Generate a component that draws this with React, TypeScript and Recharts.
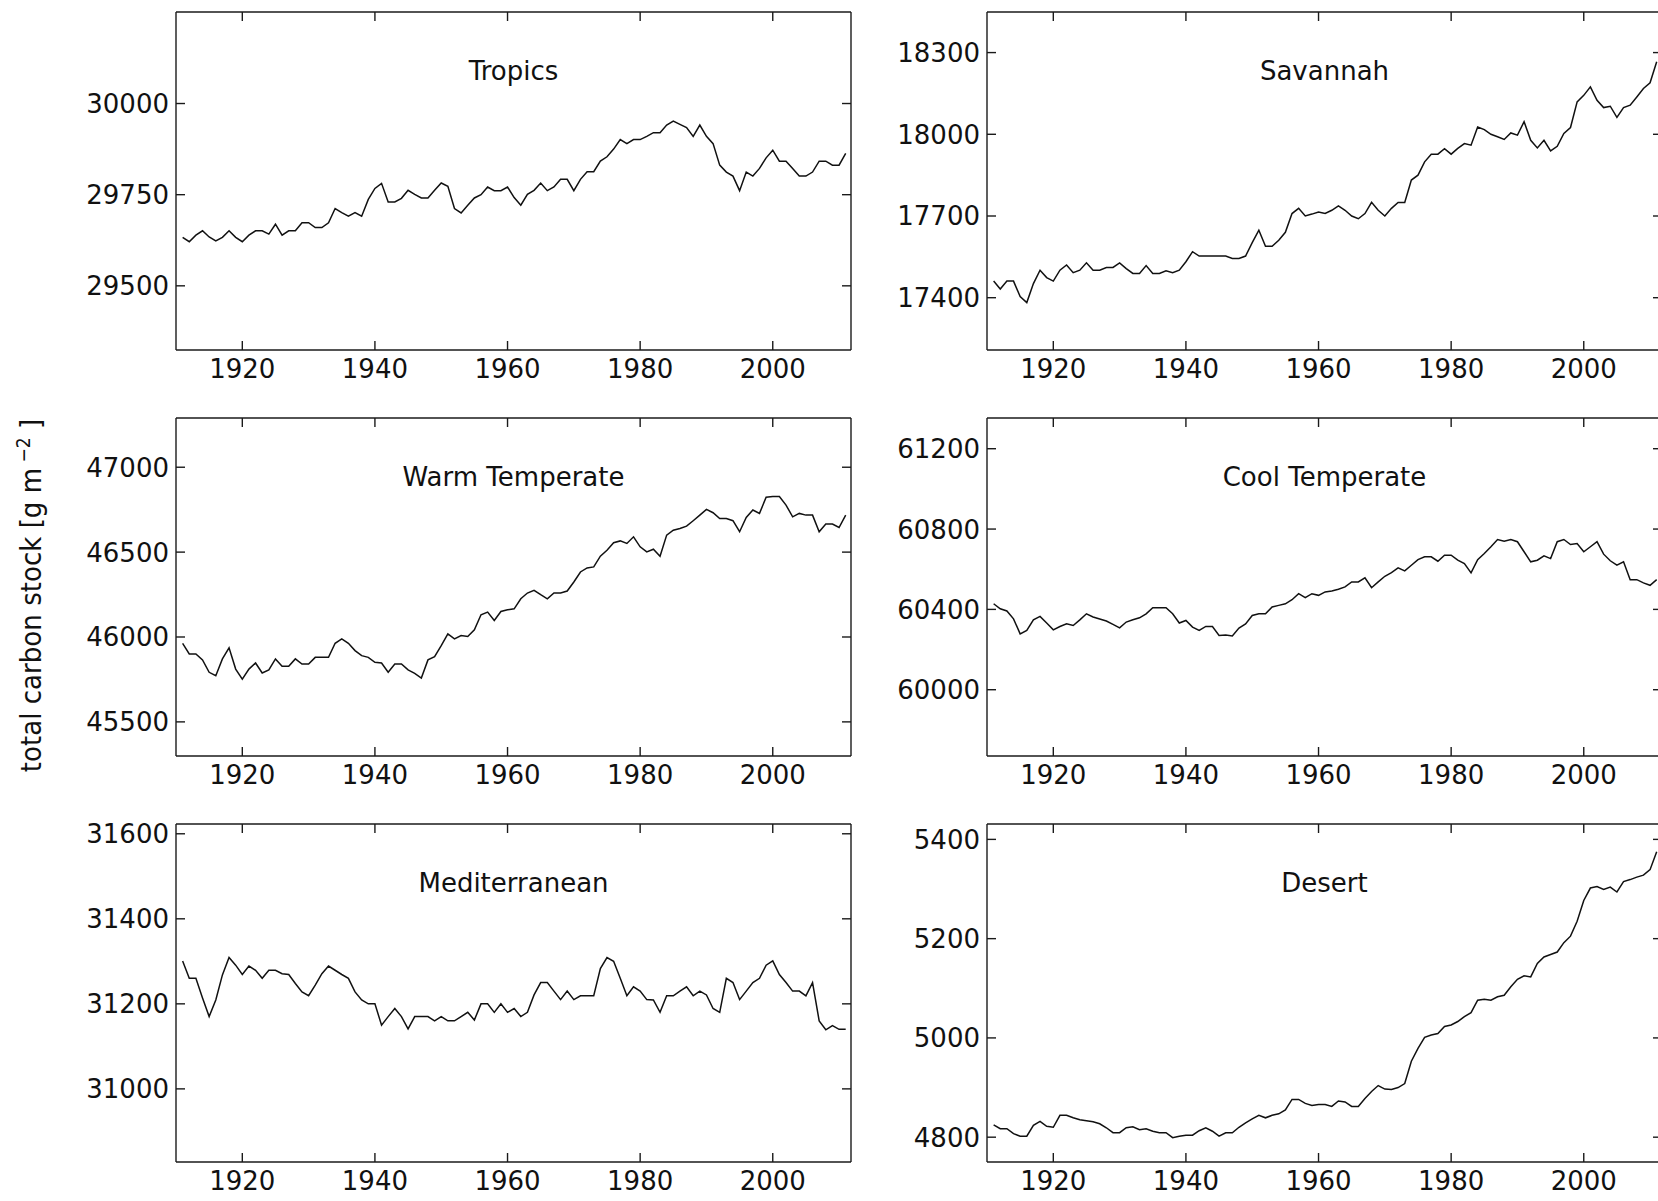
import React from 'react';
import { LineChart, Line, XAxis, YAxis } from 'recharts';

// Annual series, 1911–2011
const FIRST_YEAR = 1911;
const LAST_YEAR = 2011;
const years = Array.from({ length: LAST_YEAR - FIRST_YEAR + 1 }, (_, i) => FIRST_YEAR + i);

const yearTicks = [1920, 1940, 1960, 1980, 2000];

// total carbon stock per biome [g m^-2]
const tropics = [
  29633, 29621, 29639, 29651, 29634, 29623, 29633, 29651, 29633, 29621,
  29639, 29651, 29651, 29642, 29669, 29639, 29651, 29651, 29673, 29673,
  29660, 29660, 29673, 29712, 29701, 29691, 29701, 29691, 29737, 29767,
  29781, 29730, 29730, 29740, 29762, 29751, 29741, 29741, 29762, 29782,
  29773, 29712, 29700, 29721, 29741, 29750, 29771, 29761, 29761, 29771,
  29742, 29721, 29751, 29762, 29782, 29761, 29771, 29792, 29792, 29761,
  29792, 29813, 29813, 29842, 29854, 29875, 29901, 29890, 29901, 29901,
  29910, 29920, 29920, 29941, 29952, 29943, 29934, 29910, 29941, 29910,
  29890, 29831, 29812, 29801, 29761, 29812, 29801, 29822, 29851, 29872,
  29842, 29842, 29822, 29801, 29801, 29812, 29842, 29842, 29831, 29831,
  29863,
];

const savannah = [
  17461, 17432, 17461, 17461, 17404, 17382, 17452, 17501, 17474, 17461,
  17501, 17520, 17492, 17501, 17528, 17501, 17501, 17511, 17511, 17528,
  17507, 17489, 17489, 17518, 17489, 17489, 17499, 17492, 17501, 17532,
  17569, 17553, 17553, 17553, 17553, 17553, 17544, 17544, 17553, 17602,
  17648, 17589, 17589, 17611, 17640, 17709, 17728, 17700, 17707, 17715,
  17709, 17721, 17737, 17721, 17700, 17690, 17709, 17750, 17721, 17700,
  17728, 17750, 17750, 17832, 17850, 17899, 17927, 17927, 17947, 17927,
  17948, 17966, 17960, 18027, 18017, 18000, 17991, 17981, 18005, 17997,
  18046, 17978, 17950, 17978, 17939, 17956, 18003, 18025, 18119, 18143,
  18174, 18125, 18098, 18103, 18062, 18098, 18107, 18137, 18168, 18189,
  18266,
];

const warmTemperate = [
  45963, 45900, 45900, 45865, 45792, 45772, 45871, 45936, 45811, 45752,
  45811, 45847, 45788, 45806, 45871, 45827, 45827, 45871, 45841, 45841,
  45880, 45880, 45880, 45963, 45989, 45963, 45920, 45890, 45880, 45851,
  45847, 45792, 45841, 45841, 45806, 45786, 45758, 45865, 45884, 45949,
  46018, 45989, 46009, 46003, 46042, 46131, 46147, 46097, 46150, 46160,
  46166, 46225, 46259, 46275, 46249, 46225, 46259, 46259, 46271, 46324,
  46383, 46407, 46413, 46476, 46511, 46555, 46566, 46551, 46590, 46531,
  46501, 46517, 46476, 46600, 46629, 46639, 46653, 46685, 46718, 46752,
  46732, 46698, 46698, 46685, 46620, 46704, 46748, 46728, 46823, 46827,
  46827, 46777, 46708, 46728, 46718, 46718, 46620, 46665, 46665, 46645,
  46718,
];

const coolTemperate = [
  60428, 60403, 60392, 60353, 60278, 60295, 60348, 60365, 60332, 60298,
  60315, 60328, 60320, 60348, 60378, 60362, 60352, 60342, 60325, 60308,
  60337, 60348, 60358, 60378, 60408, 60408, 60408, 60378, 60332, 60345,
  60312, 60295, 60315, 60315, 60270, 60273, 60268, 60307, 60328, 60370,
  60378, 60378, 60412, 60420, 60428, 60448, 60478, 60458, 60478, 60470,
  60487, 60492, 60500, 60512, 60537, 60537, 60557, 60508, 60537, 60565,
  60583, 60607, 60592, 60620, 60648, 60662, 60662, 60640, 60670, 60670,
  60645, 60628, 60582, 60648, 60678, 60712, 60748, 60740, 60748, 60737,
  60687, 60637, 60645, 60667, 60653, 60737, 60748, 60723, 60728, 60687,
  60712, 60737, 60675, 60642, 60620, 60637, 60548, 60548, 60532, 60520,
  60548,
];

const mediterranean = [
  31301, 31260, 31260, 31214, 31170, 31209, 31268, 31309, 31291, 31269,
  31289, 31279, 31260, 31279, 31279, 31271, 31269, 31248, 31228, 31219,
  31244, 31271, 31289, 31279, 31269, 31260, 31228, 31209, 31200, 31200,
  31150, 31170, 31189, 31170, 31141, 31170, 31170, 31170, 31160, 31170,
  31160, 31160, 31170, 31180, 31162, 31200, 31200, 31180, 31200, 31180,
  31189, 31170, 31180, 31221, 31250, 31250, 31230, 31210, 31230, 31210,
  31219, 31219, 31219, 31283, 31309, 31300, 31260, 31219, 31240, 31230,
  31210, 31209, 31180, 31219, 31219, 31230, 31240, 31219, 31230, 31221,
  31189, 31180, 31260, 31250, 31210, 31230, 31250, 31260, 31291, 31301,
  31269, 31250, 31230, 31230, 31219, 31250, 31160, 31139, 31149, 31140,
  31140,
];

const desert = [
  4825, 4817, 4817, 4807, 4802, 4802, 4824, 4832, 4822, 4820,
  4844, 4844, 4839, 4835, 4833, 4831, 4827, 4819, 4809, 4809,
  4819, 4821, 4815, 4817, 4812, 4809, 4809, 4799, 4802, 4804,
  4804, 4813, 4819, 4812, 4802, 4809, 4809, 4820, 4829, 4837,
  4844, 4839, 4844, 4847, 4855, 4876, 4876, 4868, 4864, 4866,
  4866, 4862, 4873, 4871, 4862, 4862, 4878, 4892, 4904, 4897,
  4896, 4900, 4908, 4953, 4979, 5001, 5006, 5009, 5023, 5026,
  5033, 5043, 5051, 5076, 5078, 5076, 5083, 5086, 5103, 5118,
  5125, 5123, 5150, 5163, 5168, 5173, 5192, 5205, 5235, 5277,
  5302, 5305, 5299, 5304, 5294, 5315, 5319, 5324, 5328, 5339,
  5375,
];

// y-axis tick values per panel
const tropicsTicks = [29500, 29750, 30000];
const savannahTicks = [17400, 17700, 18000, 18300];
const warmTicks = [45500, 46000, 46500, 47000];
const coolTicks = [60000, 60400, 60800, 61200];
const medTicks = [31000, 31200, 31400, 31600];
const desertTicks = [4800, 5000, 5200, 5400];

type Panel = {
  title: string;
  values: number[];
  yDomain: [number, number];
  yTicks: number[];
  col: number;
  row: number;
};

const panels: Panel[] = [
  { title: 'Tropics', values: tropics, yDomain: [29324, 30251], yTicks: tropicsTicks, col: 0, row: 0 },
  { title: 'Savannah', values: savannah, yDomain: [17208, 18449], yTicks: savannahTicks, col: 1, row: 0 },
  { title: 'Warm Temperate', values: warmTemperate, yDomain: [45299, 47290], yTicks: warmTicks, col: 0, row: 1 },
  { title: 'Cool Temperate', values: coolTemperate, yDomain: [59670, 61353], yTicks: coolTicks, col: 1, row: 1 },
  { title: 'Mediterranean', values: mediterranean, yDomain: [30828, 31623], yTicks: medTicks, col: 0, row: 2 },
  { title: 'Desert', values: desert, yDomain: [4750, 5431], yTicks: desertTicks, col: 1, row: 2 },
];

// layout
const X_DOMAIN: [number, number] = [1910, 2011.8];
const COL_LEFT = [176, 987];
const ROW_TOP = [12, 418, 824];
const PLOT_W = 675;
const PLOT_H = 338;
const Y_AXIS_W = 110;
const X_AXIS_H = 40;
const PAD = 4;
const TICK_LEN = 9;
const FONT = '"DejaVu Sans", Verdana, sans-serif';
const FONT_SIZE = 26;
const INK = '#111';
const FRAME_COLOR = '#1a1a1a';
const FRAME = { stroke: FRAME_COLOR, strokeWidth: 1.4 };

const BottomTick = (props: any) => {
  const { x, y, payload } = props;
  return (
    <g>
      <line x1={x} y1={y} x2={x} y2={y - TICK_LEN} stroke={FRAME_COLOR} strokeWidth={1.4} />
      <text x={x} y={y + 28} textAnchor="middle" fontFamily={FONT} fontSize={FONT_SIZE} fill={INK}>
        {payload.value}
      </text>
    </g>
  );
};

const TopTick = (props: any) => {
  const { x, y } = props;
  return <line x1={x} y1={y} x2={x} y2={y + TICK_LEN} stroke={FRAME_COLOR} strokeWidth={1.4} />;
};

const LeftTick = (props: any) => {
  const { x, y, payload } = props;
  return (
    <g>
      <line x1={x} y1={y} x2={x + TICK_LEN} y2={y} stroke={FRAME_COLOR} strokeWidth={1.4} />
      <text x={x - 7} y={y + 9.5} textAnchor="end" fontFamily={FONT} fontSize={FONT_SIZE} fill={INK}>
        {payload.value}
      </text>
    </g>
  );
};

const RightTick = (props: any) => {
  const { x, y } = props;
  return <line x1={x} y1={y} x2={x - TICK_LEN} y2={y} stroke={FRAME_COLOR} strokeWidth={1.4} />;
};

function BiomePanel({ p }: { p: Panel }) {
  const data = years.map((year, i) => ({ year, value: p.values[i] }));
  const left = COL_LEFT[p.col];
  const top = ROW_TOP[p.row];
  return (
    <div style={{ position: 'absolute', left: left - Y_AXIS_W, top: top - PAD }}>
      <LineChart
        width={Y_AXIS_W + PLOT_W + PAD}
        height={PAD + PLOT_H + X_AXIS_H}
        data={data}
        margin={{ top: 0, right: 0, bottom: 0, left: 0 }}
      >
        <XAxis
          xAxisId="bottom"
          dataKey="year"
          type="number"
          orientation="bottom"
          domain={X_DOMAIN}
          allowDataOverflow
          ticks={yearTicks}
          interval={0}
          height={X_AXIS_H}
          tickSize={0}
          tickMargin={0}
          tickLine={false}
          axisLine={FRAME}
          tick={BottomTick}
        />
        <XAxis
          xAxisId="top"
          dataKey="year"
          type="number"
          orientation="top"
          domain={X_DOMAIN}
          allowDataOverflow
          ticks={yearTicks}
          interval={0}
          height={PAD}
          tickSize={0}
          tickMargin={0}
          tickLine={false}
          axisLine={FRAME}
          tick={TopTick}
        />
        <YAxis
          yAxisId="left"
          type="number"
          orientation="left"
          domain={p.yDomain}
          allowDataOverflow
          ticks={p.yTicks}
          interval={0}
          width={Y_AXIS_W}
          tickSize={0}
          tickMargin={0}
          tickLine={false}
          axisLine={FRAME}
          tick={LeftTick}
        />
        <YAxis
          yAxisId="right"
          type="number"
          orientation="right"
          domain={p.yDomain}
          allowDataOverflow
          ticks={p.yTicks}
          interval={0}
          width={PAD}
          tickSize={0}
          tickMargin={0}
          tickLine={false}
          axisLine={FRAME}
          tick={RightTick}
        />
        <Line
          xAxisId="bottom"
          yAxisId="left"
          type="linear"
          dataKey="value"
          stroke={INK}
          strokeWidth={1.5}
          dot={false}
          activeDot={false}
          isAnimationActive={false}
        />
        {/* invisible series so the top and right frame axes share the same scales */}
        <Line
          xAxisId="top"
          yAxisId="right"
          type="linear"
          dataKey="value"
          stroke="transparent"
          strokeWidth={0}
          dot={false}
          activeDot={false}
          isAnimationActive={false}
        />
      </LineChart>
    </div>
  );
}

export default function App() {
  return (
    <div
      style={{
        position: 'absolute',
        left: 0,
        top: 0,
        width: 1658,
        height: 1201,
        overflow: 'hidden',
        background: '#fff',
      }}
    >
      {panels.map((p) => (
        <BiomePanel key={p.title} p={p} />
      ))}
      <svg
        width={1658}
        height={1201}
        style={{ position: 'absolute', left: 0, top: 0, pointerEvents: 'none' }}
      >
        {panels.map((p) => (
          <text
            key={p.title}
            x={COL_LEFT[p.col] + PLOT_W / 2}
            y={ROW_TOP[p.row] + 68}
            textAnchor="middle"
            fontFamily={FONT}
            fontSize={FONT_SIZE}
            fill={INK}
          >
            {p.title}
          </text>
        ))}
        <text
          transform="rotate(-90)"
          x={-595.5}
          y={41}
          textAnchor="middle"
          fontFamily={FONT}
          fontSize={29}
          style={{ fontStretch: 'condensed' }}
          fill={INK}
        >
          total carbon stock [g m
          <tspan fontSize={19} dy={-11}>{' \u22122'}</tspan>
          <tspan dy={11}>{' ]'}</tspan>
        </text>
      </svg>
    </div>
  );
}
